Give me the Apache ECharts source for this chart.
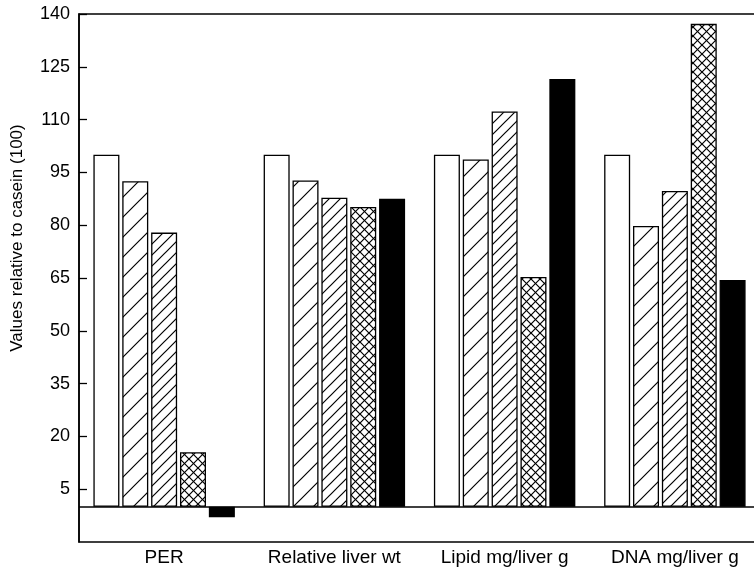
<!DOCTYPE html>
<html>
<head>
<meta charset="utf-8">
<script src="https://cdn.jsdelivr.net/npm/echarts@6/dist/echarts.min.js"></script>
<style>
  html, body { margin: 0; padding: 0; background: #fff; overflow: hidden; }
  #chart { width: 760px; height: 568px; }
</style>
</head>
<body>
<div id="chart"></div>
<script>
const categories = ['PER', 'Relative liver wt', 'Lipid mg/liver g', 'DNA mg/liver g'];
const seriesNames = ['Casein', 'Diet A', 'Diet B', 'Diet C', 'Diet D'];
const casein = [100, 100, 100, 100];
const dietA = [92.5, 92.7, 98.7, 79.8];
const dietB = [77.9, 87.8, 112.3, 89.7];
const dietC = [15.5, 85.2, 65.3, 137.2];
const dietD = [-3, 87.5, 121.5, 64.4];
const yTicks = [5, 20, 35, 50, 65, 80, 95, 110, 125, 140];

function makePattern(size, draw) {
  const c = document.createElement('canvas');
  c.width = size; c.height = size;
  const ctx = c.getContext('2d');
  ctx.fillStyle = '#fff';
  ctx.fillRect(0, 0, size, size);
  ctx.strokeStyle = '#000';
  ctx.lineWidth = 1.2;
  draw(ctx, size);
  return c;
}
function diag(ctx, s) {
  ctx.beginPath();
  ctx.moveTo(-1, s + 1); ctx.lineTo(s + 1, -1);
  ctx.moveTo(-1, 1); ctx.lineTo(1, -1);
  ctx.moveTo(s - 1, s + 1); ctx.lineTo(s + 1, s - 1);
  ctx.stroke();
}
function cross(ctx, s) {
  diag(ctx, s);
  ctx.beginPath();
  ctx.moveTo(-1, -1); ctx.lineTo(s + 1, s + 1);
  ctx.moveTo(s - 1, -1); ctx.lineTo(s + 1, 1);
  ctx.moveTo(-1, s - 1); ctx.lineTo(1, s + 1);
  ctx.stroke();
}
const sparseHatch = makePattern(20, diag);
const denseHatch = makePattern(11, diag);
const crossHatch = makePattern(9, cross);

const fills = [
  '#ffffff',
  { image: sparseHatch, repeat: 'repeat' },
  { image: denseHatch, repeat: 'repeat' },
  { image: crossHatch, repeat: 'repeat' },
  '#000000'
];
const values = [casein, dietA, dietB, dietC, dietD];

const font = 'Liberation Sans, Arial, Helvetica, sans-serif';
const chart = echarts.init(document.getElementById('chart'), null, { renderer: 'canvas' });

const series = values.map((v, i) => ({
  name: seriesNames[i],
  type: 'bar',
  data: v,
  barWidth: 26,
  barGap: '11%',
  itemStyle: { color: fills[i], borderColor: '#000', borderWidth: 1.3 },
  emphasis: { disabled: true },
  markLine: i === 0 ? {
    silent: true,
    symbol: 'none',
    label: { show: false },
    lineStyle: { color: '#000', width: 1.6, type: 'solid' },
    data: [{ yAxis: 0 }]
  } : undefined
}));

chart.setOption({
  animation: false,
  backgroundColor: '#fff',
  grid: {
    left: 79, right: 0, top: 14, bottom: 26,
    show: true, borderColor: '#000', borderWidth: 1.5, backgroundColor: 'transparent'
  },
  xAxis: {
    type: 'category',
    data: categories,
    axisLine: { show: false },
    axisTick: { show: false },
    axisLabel: { color: '#000', fontSize: 19, fontFamily: font, margin: 6, interval: 0 }
  },
  yAxis: {
    type: 'value',
    min: -10,
    max: 140,
    name: 'Values relative to casein (100)',
    nameLocation: 'middle',
    nameRotate: 90,
    nameGap: 53,
    nameTextStyle: { color: '#000', fontSize: 17, fontFamily: font, padding: [0, 0, 0, 80] },
    axisLine: { show: true, lineStyle: { color: '#000', width: 1.5 } },
    axisTick: { show: true, inside: true, length: 8, lineStyle: { color: '#000', width: 1.3 }, customValues: yTicks },
    axisLabel: { color: '#000', fontSize: 18, fontFamily: font, margin: 9, customValues: yTicks },
    splitLine: { show: false }
  },
  series: series
});
</script>
</body>
</html>
